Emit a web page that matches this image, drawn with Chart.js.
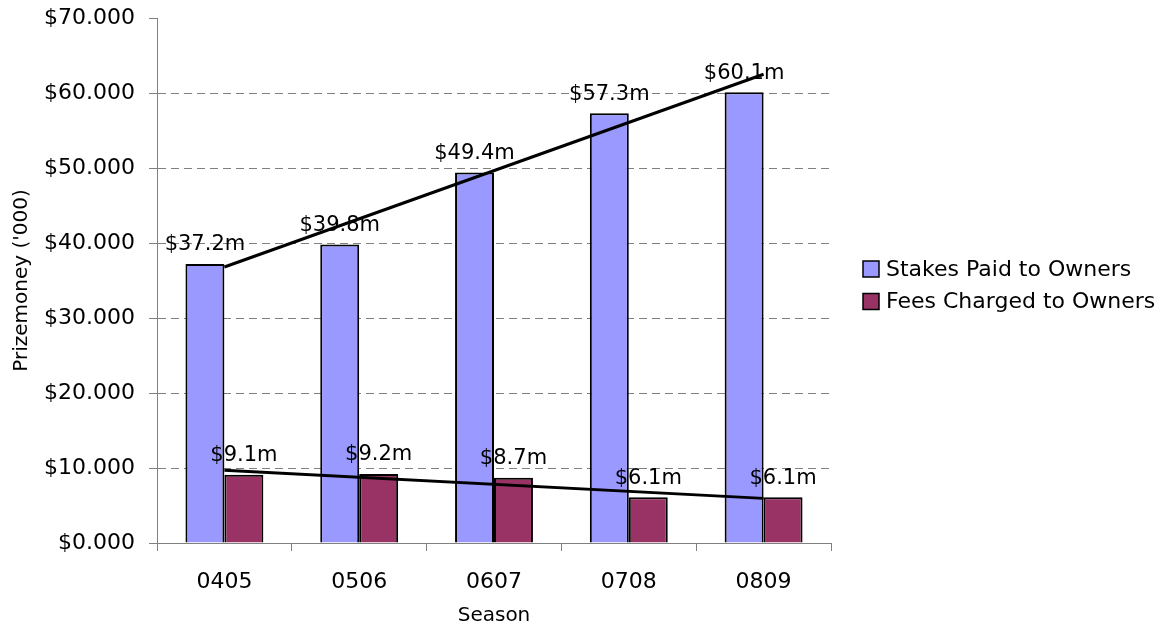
<!DOCTYPE html>
<html>
<head>
<meta charset="utf-8">
<title>Prizemoney by Season</title>
<script src="https://cdn.jsdelivr.net/npm/chart.js@4"></script>
<style>
  html, body { margin: 0; padding: 0; background: #fff; }
  #wrap { width: 1167px; height: 626px; position: relative; }
</style>
</head>
<body>
<div id="wrap"><canvas id="prizeChart"></canvas></div>
<script>
// seasons and prizemoney ($m)
const seasons = ['0405', '0506', '0607', '0708', '0809'];
const stakesPaid = [37.2, 39.8, 49.4, 57.3, 60.1];
const feesCharged = [9.1, 9.2, 8.7, 6.1, 6.1];

// linear trend end points (first and last season)
const trendStakes = [36.8, null, null, null, 62.5];
const trendFees = [9.7, null, null, null, 5.95];

const yTicks = [0, 10, 20, 30, 40, 50, 60, 70];

const AXIS_GREY = '#808080';
const FONT = '"DejaVu Sans", Verdana, sans-serif';

// "$37.2m" style labels above each bar; written once the last bar series
// (the lowest index, drawn last) is down so no bar covers them
const barLabels = {
  id: 'barLabels',
  afterDatasetDraw(chart, args) {
    const sets = chart.data.datasets;
    const firstBar = sets.findIndex(function(d) { return d.type === 'bar'; });
    if (args.index !== firstBar) return;
    const ctx = chart.ctx;
    ctx.save();
    ctx.font = '21px ' + FONT;
    ctx.fillStyle = '#000';
    ctx.textAlign = 'center';
    ctx.textBaseline = 'middle';
    sets.forEach(function(ds, di) {
      if (ds.type !== 'bar') return;
      chart.getDatasetMeta(di).data.forEach(function(bar, i) {
        ctx.fillText('$' + ds.data[i].toFixed(1) + 'm', bar.x, bar.y - 19);
      });
    });
    ctx.restore();
  }
};

// legend to the right of the plot, bar series only
const sideLegend = {
  id: 'sideLegend',
  afterDraw(chart) {
    const ctx = chart.ctx;
    const bars = chart.data.datasets.filter(function(d) { return d.type === 'bar'; });
    const x = 863, y0 = 269, step = 32.5, box = 16;
    ctx.save();
    ctx.font = '22px ' + FONT;
    ctx.textAlign = 'left';
    ctx.textBaseline = 'middle';
    bars.forEach(function(d, i) {
      const cy = y0 + i * step;
      ctx.fillStyle = d.backgroundColor;
      ctx.fillRect(x, cy - box / 2, box, box);
      ctx.lineWidth = 1.5;
      ctx.strokeStyle = '#000';
      ctx.strokeRect(x, cy - box / 2, box, box);
      ctx.fillStyle = '#000';
      ctx.fillText(d.label, x + 23, cy + 1);
    });
    ctx.restore();
  }
};

Chart.defaults.font.family = FONT;
Chart.defaults.font.size = 21;
Chart.defaults.color = '#000';

new Chart(document.getElementById('prizeChart'), {
  type: 'bar',
  data: {
    labels: seasons,
    datasets: [
      {
        type: 'line',
        label: 'trend stakes',
        data: trendStakes,
        spanGaps: true,
        borderColor: '#000',
        borderWidth: 3,
        pointRadius: 0,
        order: 0
      },
      {
        type: 'line',
        label: 'trend fees',
        data: trendFees,
        spanGaps: true,
        borderColor: '#000',
        borderWidth: 3,
        pointRadius: 0,
        order: 0
      },
      {
        type: 'bar',
        label: 'Stakes Paid to Owners',
        data: stakesPaid,
        backgroundColor: '#9999FF',
        borderColor: '#000',
        borderWidth: 2,
        categoryPercentage: 0.578,
        barPercentage: 1,
        order: 2
      },
      {
        type: 'bar',
        label: 'Fees Charged to Owners',
        data: feesCharged,
        backgroundColor: '#993366',
        borderColor: '#000',
        borderWidth: 2,
        categoryPercentage: 0.578,
        barPercentage: 1,
        order: 2
      }
    ]
  },
  options: {
    responsive: true,
    maintainAspectRatio: false,
    animation: false,
    layout: { padding: { top: 18, left: 6, right: 336, bottom: -2 } },
    plugins: {
      tooltip: { enabled: false },
      legend: { display: false }
    },
    scales: {
      x: {
        offset: true,
        grid: {
          offset: true,
          drawOnChartArea: false,
          drawTicks: true,
          tickLength: 8,
          tickColor: AXIS_GREY
        },
        border: { color: AXIS_GREY, width: 1 },
        ticks: { padding: 18, font: { size: 22 } },
        title: {
          display: true,
          text: 'Season',
          font: { size: 20 },
          padding: { top: 4, bottom: 0 }
        },
        afterFit: function(s) { s.height = 626 - 543 + 2; }
      },
      y: {
        min: 0,
        max: 70,
        afterBuildTicks: function(s) { s.ticks = yTicks.map(function(v) { return { value: v }; }); },
        grid: {
          color: function(c) {
            const v = c.tick ? c.tick.value : null;
            return (v === 0 || v === 70) ? 'rgba(0,0,0,0)' : AXIS_GREY;
          },
          tickLength: 8,
          tickColor: AXIS_GREY,
          lineWidth: 1
        },
        border: { color: AXIS_GREY, width: 1, dash: [8, 5] },
        ticks: {
          padding: 14,
          font: { size: 22 },
          callback: function(v) { return '$' + v.toFixed(3); }
        },
        title: {
          display: true,
          text: "Prizemoney ('000)",
          font: { size: 20 },
          padding: { top: 4, bottom: 4 }
        },
        afterFit: function(s) {
          s.width = 151;
          s.paddingTop = 0;
          s.paddingBottom = 0;
        }
      }
    }
  },
  plugins: [barLabels, sideLegend]
});
</script>
</body>
</html>
